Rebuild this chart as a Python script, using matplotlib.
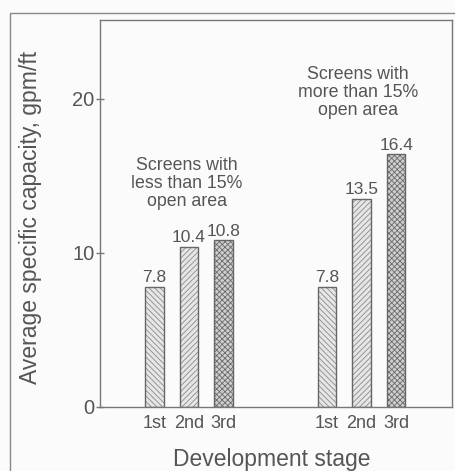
import matplotlib
matplotlib.use("Agg")
import matplotlib.pyplot as plt
from matplotlib.patches import Rectangle

stages = ["1st", "2nd", "3rd"]
less_15 = [7.8, 10.4, 10.8]
more_15 = [7.8, 13.5, 16.4]
group_labels = ["Screens with\nless than 15%\nopen area", "Screens with\nmore than 15%\nopen area"]
yticks = [0, 10, 20]

plt.rcParams['font.family'] = ['Liberation Sans', 'DejaVu Sans']
plt.rcParams['hatch.linewidth'] = 0.6

TXT = "#555555"
LINE = "#777777"
BG = "#fbfbfb"

W, H = 456, 471
fig = plt.figure(figsize=(W/100, H/100), dpi=100, facecolor=BG)
ax = fig.add_axes([100/W, 1 - 407/H, 352/W, 387/H])
ax.set_facecolor(BG)

# outer frame
fig.patches.append(Rectangle((10/W, -0.1), 1.2, (H-13)/H + 0.1, transform=fig.transFigure,
                             fill=False, edgecolor="#888888", linewidth=1.0))

x_left = [0, 1, 2]
x_right = [5, 6, 7]
hatches = ["\\\\\\\\\\\\", "//////", "xxxxxx"]
fills = ["#e6e6e6", "#e6e6e6", "#cfcfcf"]
hcols = ["#8a8a8a", "#8a8a8a", "#6a6a6a"]
w = 0.53

for xs, vals in [(x_left, less_15), (x_right, more_15)]:
    for i, (x, v) in enumerate(zip(xs, vals)):
        ax.bar(x, v, width=w, color=fills[i], hatch=hatches[i], edgecolor=hcols[i], linewidth=0, zorder=2)
        ax.bar(x, v, width=w, fill=False, edgecolor="#666666", linewidth=1.0, zorder=3)
        ax.text(x, v + 0.3, f"{v}", ha="center", va="baseline", fontsize=12.5, color=TXT)
        ax.text(x, -1.36, stages[i], ha="center", va="baseline", fontsize=13, color=TXT)

ax.text(0.94, 14.5, group_labels[0], ha="center", va="center", fontsize=12.8, color=TXT, linespacing=1.05)
ax.text(5.9, 20.4, group_labels[1], ha="center", va="center", fontsize=12.8, color=TXT, linespacing=1.05)

ax.set_xlim(-1.58, 8.62)
ax.set_ylim(0, 25.1)
ax.set_xticks([])
ax.set_yticks(yticks)
ax.set_yticklabels([str(t) for t in yticks], fontsize=14.5, color=TXT)
ax.tick_params(axis='y', direction='inout', length=6, width=1, color=LINE, pad=1)
for s in ax.spines.values():
    s.set_color(LINE)
    s.set_linewidth(1.0)

fig.text(31/W, 1 - 217/H, "Average specific capacity, gpm/ft", rotation=90,
         ha="center", va="center", fontsize=16.5, color=TXT)
fig.text(272/W, 1 - 466/H, "Development stage", ha="center", va="baseline",
         fontsize=16.5, color=TXT)

fig.savefig("out.png", dpi=100, facecolor=BG)
